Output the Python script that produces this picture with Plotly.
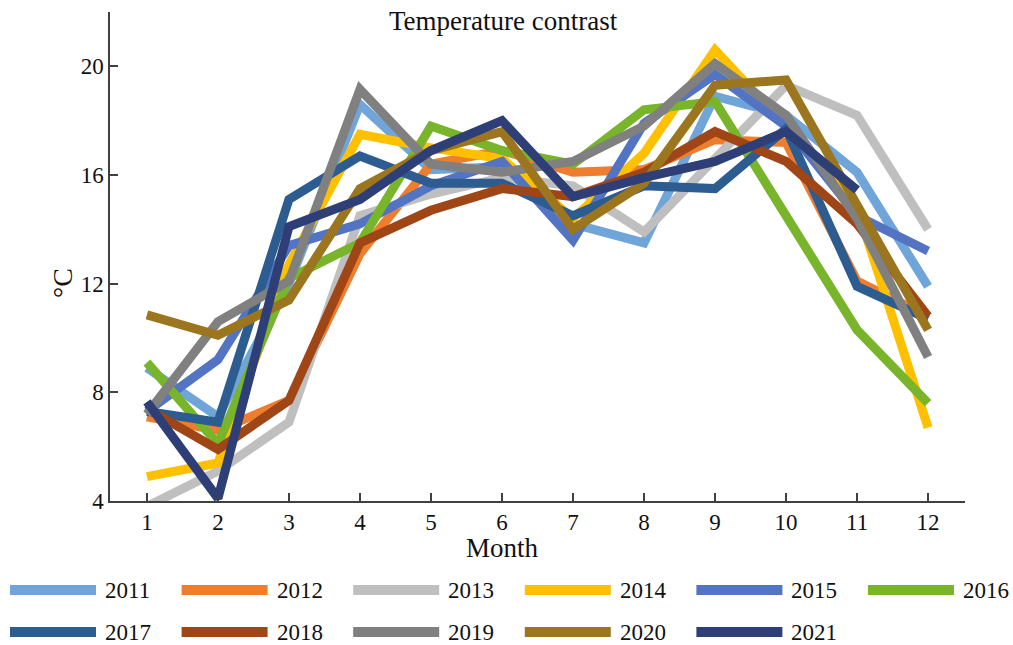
import plotly.graph_objects as go

months = list(range(1, 13))
month_labels = [str(m) for m in months]
years = ["2011", "2012", "2013", "2014", "2015", "2016",
         "2017", "2018", "2019", "2020", "2021"]

y2011 = [8.9, 7.1, 12.0, 18.6, 16.2, 16.3, 14.2, 13.5, 18.9, 18.2, 16.1, 11.9]
y2012 = [7.1, 6.6, 7.7, 13.1, 16.4, 16.9, 16.1, 16.2, 17.3, 17.2, 12.1, 10.8]
y2013 = [3.8, 5.1, 6.9, 14.5, 15.3, 15.9, 15.6, 13.9, 16.6, 19.3, 18.2, 14.0]
y2014 = [4.9, 5.4, 12.7, 17.5, 17.0, 16.6, 14.4, 16.8, 20.6, 17.8, 14.8, 6.7]
y2015 = [7.3, 9.2, 13.4, 14.2, 15.6, 16.5, 13.6, 17.9, 19.7, 17.8, 14.5, 13.2]
y2016 = [9.1, 6.1, 12.2, 13.5, 17.8, 16.9, 16.4, 18.4, 18.7, 14.5, 10.3, 7.6]
y2017 = [7.3, 6.9, 15.1, 16.7, 15.7, 15.7, 14.5, 15.6, 15.5, 17.7, 11.9, 10.7]
y2018 = [7.4, 5.9, 7.7, 13.5, 14.7, 15.5, 15.2, 16.1, 17.6, 16.5, 14.2, 10.8]
y2019 = [7.2, 10.6, 12.1, 19.15, 16.4, 16.1, 16.5, 17.8, 20.1, 18.2, 14.4, 9.3]
y2020 = [10.85, 10.1, 11.4, 15.5, 16.9, 17.6, 14.0, 15.7, 19.3, 19.5, 14.9, 10.3]
y2021 = [7.65, 4.1, 14.1, 15.1, 16.9, 18.0, 15.2, 15.9, 16.5, 17.6, 15.45, None]

series = [y2011, y2012, y2013, y2014, y2015, y2016,
          y2017, y2018, y2019, y2020, y2021]
colors = ["#6FA5D8", "#EE7D2E", "#BEBFBE", "#FFC000", "#5374C2", "#78B52A",
          "#2D5C91", "#A04515", "#808080", "#9B761F", "#2E3F78"]

W, H = 1013, 645
L, R, T, B = 110, 48, 12, 144
pw, ph = W - L - R, H - T - B

def px2paper(x, y):
    return (x - L) / pw, (H - B - y) / ph

FONT = "Liberation Serif"
fig = go.Figure()
for name, vals, col in zip(years, series, colors):
    fig.add_trace(go.Scatter(x=months, y=vals, mode="lines", name=name,
                             line=dict(color=col, width=9), showlegend=False))

shapes = []
annotations = []
# custom legend
for i, (name, col) in enumerate(zip(years, colors)):
    row, c = divmod(i, 6)
    x0 = 10 + c * 171.6
    yy = 590 + row * 42
    a0, b0 = px2paper(x0, yy)
    a1, _ = px2paper(x0 + 86, yy)
    shapes.append(dict(type="line", xref="paper", yref="paper", x0=a0, x1=a1,
                       y0=b0, y1=b0, line=dict(color=col, width=10)))
    at, bt = px2paper(x0 + 93, yy)
    annotations.append(dict(text=name, xref="paper", yref="paper", x=at, y=bt,
                            xanchor="left", yanchor="middle", showarrow=False,
                            font=dict(family=FONT, size=23, color="#111")))

tx, ty = px2paper(503, 21)
annotations.append(dict(text="Temperature contrast", xref="paper", yref="paper",
                        x=tx, y=ty, xanchor="center", yanchor="middle", showarrow=False,
                        font=dict(family=FONT, size=27, color="#111")))
mx, my = px2paper(502, 548)
annotations.append(dict(text="Month", xref="paper", yref="paper", x=mx, y=my,
                        xanchor="center", yanchor="middle", showarrow=False,
                        font=dict(family=FONT, size=27, color="#111")))
cx, cy = px2paper(62, 283)
annotations.append(dict(text="°C", xref="paper", yref="paper", x=cx, y=cy,
                        xanchor="center", yanchor="middle", showarrow=False, textangle=-90,
                        font=dict(family=FONT, size=28, color="#111")))

fig.update_layout(
    width=W, height=H,
    margin=dict(l=L, r=R, t=T, b=B, autoexpand=False),
    paper_bgcolor="white", plot_bgcolor="white",
    shapes=shapes, annotations=annotations,
    font=dict(family=FONT, color="#111"),
    xaxis=dict(range=[0.48, 12.52], tickmode="array", tickvals=months,
               ticktext=month_labels, ticks="inside", ticklen=8, tickwidth=1.5,
               tickcolor="#404040", showline=True, linecolor="#404040", linewidth=1.5,
               showgrid=False, zeroline=False, tickfont=dict(family=FONT, size=23)),
    yaxis=dict(range=[4, 22], tickmode="array", tickvals=[4, 8, 12, 16, 20],
               ticks="inside", ticklen=8, tickwidth=1.5, tickcolor="#404040",
               showline=True, linecolor="#404040", linewidth=1.5,
               showgrid=False, zeroline=False, tickfont=dict(family=FONT, size=23)),
)
fig.write_html("out.html")
